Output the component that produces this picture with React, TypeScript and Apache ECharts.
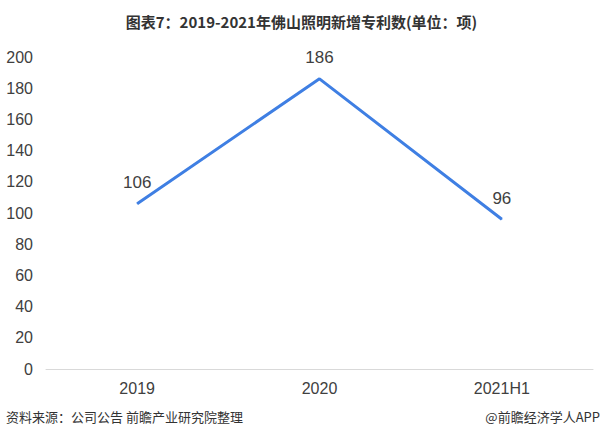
import React, { useEffect, useRef } from "react";
import * as echarts from "echarts";

const categories = ["2019", "2020", "2021H1"];
const values = [106, 186, 96];
const yTicks = { min: 0, max: 200, interval: 20 };
const titleText = "图表7：2019-2021年佛山照明新增专利数(单位：项)";
const sourceText = "资料来源：公司公告 前瞻产业研究院整理";
const brandText = "@前瞻经济学人APP";

export default function App() {
  const ref = useRef<HTMLDivElement>(null);
  useEffect(() => {
    const chart = echarts.init(ref.current!, null, { renderer: "svg" });
    chart.setOption({
      animation: false,
      backgroundColor: "#ffffff",
      title: {
        text: titleText,
        left: "center",
        top: 9,
        textStyle: { fontSize: 15, fontWeight: "bold", color: "#333", fontFamily: "Noto Sans CJK SC" },
      },
      grid: { left: 46, right: 10, top: 57, bottom: 71 },
      xAxis: {
        type: "category",
        data: categories,
        boundaryGap: true,
        axisLine: { show: true, lineStyle: { color: "#d9d9d9", width: 1 } },
        axisTick: { show: false },
        axisLabel: { fontSize: 16, color: "#404040", margin: 11, fontFamily: "Liberation Sans" },
      },
      yAxis: {
        type: "value",
        min: yTicks.min,
        max: yTicks.max,
        interval: yTicks.interval,
        axisLine: { show: false },
        axisTick: { show: false },
        splitLine: { show: false },
        axisLabel: { fontSize: 16, color: "#404040", margin: 13, fontFamily: "Liberation Sans" },
      },
      series: [
        {
          type: "line",
          data: values,
          showSymbol: true,
          symbol: "circle",
          symbolSize: 1,
          lineStyle: { color: "#3f7fe3", width: 3 },
          itemStyle: { color: "#3f7fe3" },
          label: {
            show: true,
            position: "top",
            distance: 12,
            fontSize: 17,
            color: "#404040",
            fontFamily: "Liberation Sans",
          },
        },
      ],
      graphic: [
        {
          type: "text",
          left: 6,
          top: 410,
          style: { text: sourceText, fontSize: 13, fill: "#333", fontFamily: "Noto Sans CJK SC" },
        },
        {
          type: "text",
          right: 3,
          top: 410,
          style: { text: brandText, fontSize: 13, fill: "#333", fontFamily: "Noto Sans CJK SC" },
        },
      ],
    });
    return () => chart.dispose();
  }, []);
  return <div ref={ref} style={{ width: 603, height: 440, position: "absolute", left: 0, top: 0 }} />;
}
